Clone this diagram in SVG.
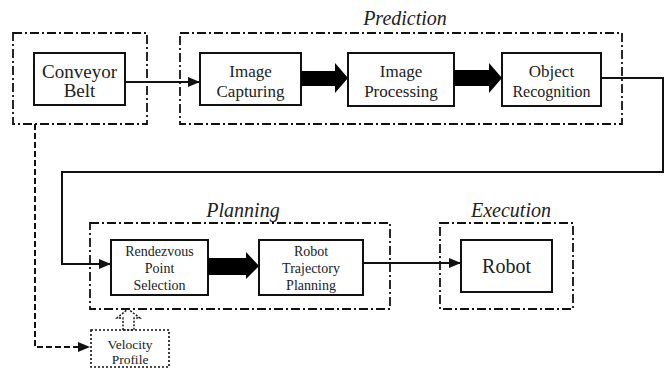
<svg xmlns="http://www.w3.org/2000/svg" width="666" height="369" viewBox="0 0 666 369" font-family="Liberation Serif, DejaVu Serif, serif">
<defs>
<style>
.grp{fill:none;stroke:#111;stroke-width:1.8;stroke-dasharray:9,3,2,3}
.box{fill:#fff;stroke:#111;stroke-width:2}
.t{fill:#222;text-anchor:middle}
.gl{font-style:italic;font-size:20px;fill:#222;text-anchor:middle}
.ln{fill:none;stroke:#111;stroke-width:2}
.thick{fill:#000}
</style>
<marker id="ah" viewBox="0 0 12 10" refX="12" refY="5" markerWidth="12" markerHeight="10" markerUnits="userSpaceOnUse" orient="auto">
<path d="M0,0 L12,5 L0,10 z" fill="#111"/>
</marker>
</defs>
<rect width="666" height="369" fill="#fff"/>

<g id="group-conveyor"><rect class="grp" x="13" y="33" width="134" height="91"/></g>
<g id="group-prediction"><rect class="grp" x="180" y="33" width="442" height="91"/><text class="gl" x="405" y="25" font-family="Liberation Serif, serif">Prediction</text></g>
<g id="group-planning"><rect class="grp" x="90" y="223" width="300" height="86"/><text class="gl" x="243" y="217" font-family="Liberation Serif, serif">Planning</text></g>
<g id="group-execution"><rect class="grp" x="440" y="223" width="133" height="86"/><text class="gl" x="511" y="217" font-family="Liberation Serif, serif">Execution</text></g>

<g id="conveyor-belt"><rect class="box" x="34" y="53" width="91" height="52"/><text class="t" font-family="Liberation Serif, serif" font-size="19" x="79.5" y="78">Conveyor</text><text class="t" font-family="Liberation Serif, serif" font-size="19" x="79.5" y="97">Belt</text></g>
<g id="image-capturing" font-family="Liberation Serif, serif"><rect class="box" x="200" y="53" width="101" height="52"/><text class="t" font-size="17" x="250.5" y="77">Image</text><text class="t" font-size="17" x="250.5" y="97">Capturing</text></g>
<g id="image-processing" font-family="Liberation Serif, serif"><rect class="box" x="348" y="53" width="106" height="53"/><text class="t" font-size="17" x="401" y="77">Image</text><text class="t" font-size="17" x="401" y="97">Processing</text></g>
<g id="object-recognition" font-family="Liberation Serif, serif"><rect class="box" x="502" y="53" width="99" height="53"/><text class="t" font-size="17" x="551.5" y="77">Object</text><text class="t" font-size="16" x="551.5" y="97">Recognition</text></g>
<g id="rendezvous" font-family="Liberation Serif, serif"><rect class="box" x="111" y="240" width="97" height="55"/><text class="t" font-size="14" x="159.5" y="256">Rendezvous</text><text class="t" font-size="14" x="159.5" y="273">Point</text><text class="t" font-size="14" x="159.5" y="290">Selection</text></g>
<g id="robot-trajectory" font-family="Liberation Serif, serif"><rect class="box" x="259" y="240" width="104" height="55"/><text class="t" font-size="14" x="311" y="256">Robot</text><text class="t" font-size="14" x="311" y="273">Trajectory</text><text class="t" font-size="14" x="311" y="290">Planning</text></g>
<g id="robot" font-family="Liberation Serif, serif"><rect class="box" x="461" y="240" width="91" height="52"/><text class="t" font-size="20" x="506.5" y="273">Robot</text></g>
<g id="velocity-profile" font-family="Liberation Serif, serif"><rect x="91" y="330" width="78" height="37" fill="#fff" stroke="#111" stroke-width="1.6" stroke-dasharray="2,2"/><text class="t" font-size="13.5" x="130" y="349">Velocity</text><text class="t" font-size="13.5" x="130" y="364">Profile</text></g>

<g id="connectors">
<line class="ln" x1="125" y1="82" x2="200" y2="82" marker-end="url(#ah)"/>
<polygon class="thick" points="301,71 335,71 335,63 348,78 335,93 335,86 301,86"/>
<polygon class="thick" points="454,70 489,70 489,63 502,78 489,93 489,86 454,86"/>
<polyline class="ln" points="601,78 663,78 663,172 62,172 62,264 111,264" marker-end="url(#ah)"/>
<polygon class="thick" points="208,258 246,258 246,252 259,266 246,279 246,275 208,275"/>
<line class="ln" x1="363" y1="263" x2="461" y2="263" marker-end="url(#ah)"/>
<polyline fill="none" stroke="#111" stroke-width="2" stroke-dasharray="6,3" points="35,124 35,347 90,347" marker-end="url(#ah)"/>
<polygon points="123,330 123,318 117,318 128,309 140,318 134,318 134,330" fill="none" stroke="#111" stroke-width="1.4" stroke-dasharray="2,1.5"/>
</g>
</svg>
